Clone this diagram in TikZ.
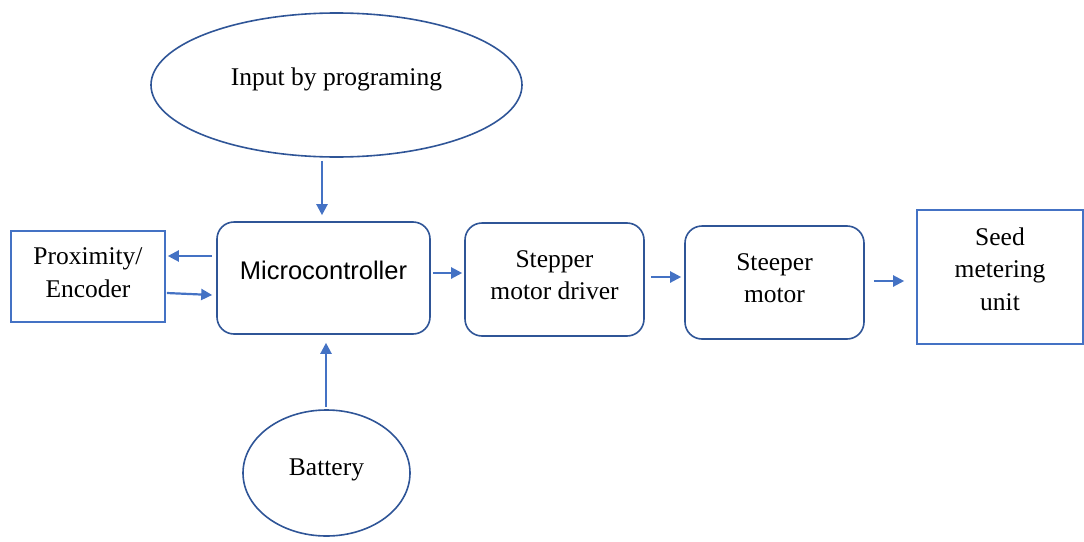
\documentclass[tikz,border=0pt]{standalone}
\usepackage{fontspec}
\setmainfont{Liberation Serif}
\newfontfamily\sansf{Liberation Sans}
\usetikzlibrary{shapes.geometric,arrows.meta}
\definecolor{darkb}{HTML}{2F5597}
\definecolor{lightb}{HTML}{4472C4}
\begin{document}
\begin{tikzpicture}[x=1pt,y=-1pt,
  txt/.style={font=\fontsize{25.5}{32.5}\selectfont, align=center, inner sep=0pt},
  rbox/.style={draw=darkb, line width=1.6pt, rounded corners=17pt, inner sep=0pt},
  sbox/.style={draw=lightb, line width=1.6pt, inner sep=0pt},
  oval/.style={draw=darkb, line width=1.6pt, ellipse, inner sep=0pt},
  arr/.style={draw=lightb, line width=2.2pt, -{Triangle[length=11pt,width=11pt]}}]
\useasboundingbox (0,0) rectangle (1084,541);
\node[oval, minimum width=371pt, minimum height=144pt,
  label={[txt, yshift=6pt]center:Input by programing}] (inp) at (336.5,85) {};
\node[rbox, minimum width=213pt, minimum height=112pt,
  label={[txt, font=\fontsize{25.5}{32.5}\sansf, yshift=8pt]center:Microcontroller}] (mc) at (323.5,278) {};
\node[sbox, minimum width=154pt, minimum height=91pt,
  label={[txt, yshift=4pt]center:Proximity/\\Encoder}] (prox) at (88,276.5) {};
\node[rbox, minimum width=179pt, minimum height=113pt,
  label={[txt, yshift=4.5pt]center:Stepper\\motor driver}] (drv) at (554.5,279.5) {};
\node[rbox, minimum width=179pt, minimum height=113pt,
  label={[txt, yshift=4.5pt]center:Steeper\\motor}] (mot) at (774.5,282.5) {};
\node[sbox, minimum width=166pt, minimum height=134pt,
  label={[txt, yshift=8pt]center:Seed\\metering\\unit}] (seed) at (1000,277) {};
\node[oval, minimum width=167pt, minimum height=126pt,
  label={[txt, yshift=3pt]center:Battery}] (bat) at (326.5,473) {};
% connectors
\draw[arr] ([xshift=-14.5pt,yshift=-3pt]inp.south) -- ([xshift=-1.5pt,yshift=6pt]mc.north);
\draw[arr] ([xshift=-4pt,yshift=22pt]mc.west) -- ([xshift=2pt,yshift=20.5pt]prox.east);
\draw[arr] ([xshift=1pt,yshift=-16.5pt]prox.east) -- ([xshift=-4pt,yshift=-17pt]mc.west);
\draw[arr] ([xshift=2pt,yshift=5pt]mc.east) -- ([xshift=-2pt,yshift=6.5pt]drv.west);
\draw[arr] ([xshift=6pt,yshift=2.5pt]drv.east) -- ([xshift=-3pt,yshift=5.5pt]mot.west);
\draw[arr] ([xshift=9pt,yshift=1.5pt]mot.east) -- ([xshift=-12pt,yshift=-4pt]seed.west);
\draw[arr] ([xshift=-0.5pt,yshift=2pt]bat.north) -- ([xshift=2.5pt,yshift=-8pt]mc.south);
\end{tikzpicture}
\end{document}
